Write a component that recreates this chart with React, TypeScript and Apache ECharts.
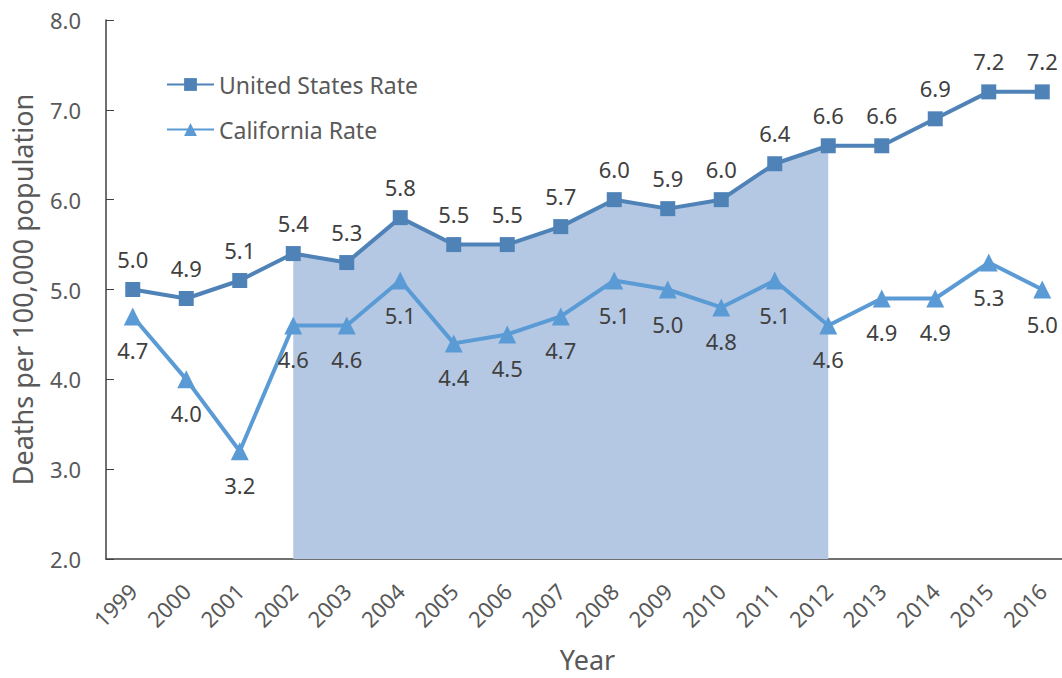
import React, { useEffect, useRef } from "react";
import * as echarts from "echarts";

const years = ["1999","2000","2001","2002","2003","2004","2005","2006","2007","2008","2009","2010","2011","2012","2013","2014","2015","2016"];
const usRate = [5.0, 4.9, 5.1, 5.4, 5.3, 5.8, 5.5, 5.5, 5.7, 6.0, 5.9, 6.0, 6.4, 6.6, 6.6, 6.9, 7.2, 7.2];
const caRate = [4.7, 4.0, 3.2, 4.6, 4.6, 5.1, 4.4, 4.5, 4.7, 5.1, 5.0, 4.8, 5.1, 4.6, 4.9, 4.9, 5.3, 5.0];
const shadeStart = "2002";
const shadeEnd = "2012";

const FONT = "'Noto Sans', 'Open Sans', sans-serif";

export default function App() {
  const ref = useRef<HTMLDivElement>(null);
  useEffect(() => {
    if (!ref.current) return;
    const chart = echarts.init(ref.current, null, { renderer: "svg" });
    const i0 = years.indexOf(shadeStart);
    const i1 = years.indexOf(shadeEnd);
    const shade = usRate.map((v, i) => (i >= i0 && i <= i1 ? v : null));
    chart.setOption({
      animation: false,
      textStyle: { fontFamily: FONT },
      grid: { left: 106, width: 963, top: 20, height: 539, containLabel: false, outerBoundsMode: "none" },
      legend: {
        orient: "vertical",
        left: 161,
        top: 68,
        itemGap: 22,
        itemWidth: 47,
        itemHeight: 16,
        textStyle: { fontSize: 23, color: "#595959", fontFamily: FONT },
        data: ["United States Rate", "California Rate"],
      },
      xAxis: {
        type: "category",
        data: years,
        boundaryGap: true,
        name: "Year",
        nameLocation: "middle",
        nameGap: 87,
        nameTextStyle: { fontSize: 27, color: "#595959" },
        axisLine: { lineStyle: { color: "#404040", width: 1.5 } },
        axisTick: { inside: true, length: 8, lineStyle: { color: "#404040" } },
        axisLabel: { rotate: 45, fontSize: 22, color: "#595959", margin: 28 },
      },
      yAxis: {
        type: "value",
        min: 2,
        max: 8,
        interval: 1,
        name: "Deaths per 100,000 population",
        nameLocation: "middle",
        nameGap: 70,
        nameTextStyle: { fontSize: 27, color: "#595959" },
        splitLine: { show: false },
        axisLine: { show: true, lineStyle: { color: "#404040", width: 1.5 } },
        axisTick: { show: true, inside: true, length: 8, lineStyle: { color: "#404040" } },
        axisLabel: { fontSize: 22, color: "#595959", margin: 25, formatter: (v: number) => v.toFixed(1) },
      },
      series: [
        {
          name: "shade",
          type: "line",
          data: shade,
          showSymbol: false,
          symbol: "none",
          connectNulls: false,
          lineStyle: { width: 0, opacity: 0 },
          areaStyle: { color: "#b4c8e4", opacity: 1, origin: "start" },
          z: 1,
          silent: true,
          legendHoverLink: false,
        },
        {
          name: "United States Rate",
          type: "line",
          data: usRate,
          symbol: "rect",
          symbolSize: 15,
          color: "#4f83b7",
          lineStyle: { width: 4, color: "#4f83b7" },
          itemStyle: { color: "#4f83b7" },
          label: {
            show: true,
            position: "top",
            distance: 12,
            fontSize: 22,
            color: "#404040",
            formatter: (p: any) => Number(p.value).toFixed(1),
          },
          z: 3,
        },
        {
          name: "California Rate",
          type: "line",
          data: caRate,
          symbol: "triangle",
          symbolSize: 18,
          color: "#5b9bd5",
          lineStyle: { width: 4, color: "#5b9bd5" },
          itemStyle: { color: "#5b9bd5" },
          label: {
            show: true,
            position: "bottom",
            distance: 14,
            fontSize: 22,
            color: "#404040",
            formatter: (p: any) => Number(p.value).toFixed(1),
          },
          z: 3,
        },
      ],
    });
    return () => chart.dispose();
  }, []);
  return <div ref={ref} style={{ width: 1062, height: 678, position: "absolute", left: 0, top: 0, overflow: "hidden" }} />;
}
